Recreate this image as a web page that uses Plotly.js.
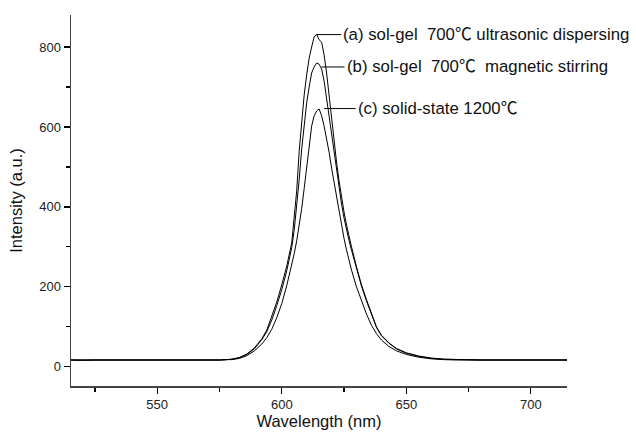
<!DOCTYPE html>
<html>
<head>
<meta charset="utf-8">
<script src="https://cdn.plot.ly/plotly-3.0.1.min.js"></script>
<style>html,body{margin:0;padding:0;background:#fff;}#chart{width:636px;height:437px;}</style>
</head>
<body>
<div id="chart"></div>
<script>
const wavelength = [515,520,525,530,535,540,545,550,555,560,565,570,575,578,580,583,586,589,592,594,596,598,600,602,604,605,606,607,608,609,610,611,612,613,614,615,616,617,618,619,620,621,622,623,624,625,626,627,628,630,632,634,636,638,640,643,646,650,655,660,665,670,680,690,700,710,715];

const seriesA = [17,17,17,16,17,17,17,16,17,17,17,17,17,18,19,23,32,47,70,92,125,162,205,252,310,370,440,540,620,680,730,772,800,825,832,818,812,780,735,680,610,560,512,465,422,387,355,326,300,250,205,168,134,100,79,60,46,35,27,22,19,18,17,17,17,17,17];

const seriesB = [17,17,16,17,17,17,16,17,17,17,17,17,17,18,19,23,31,45,68,88,117,153,193,240,298,342,398,468,545,610,660,700,735,750,760,757,745,715,670,622,575,530,487,446,407,372,342,316,292,245,202,165,131,99,78,59,45,34,26,21,19,18,17,17,17,17,17];

const seriesC = [17,16,17,17,17,16,17,17,17,16,17,17,17,18,18,21,28,40,57,73,94,123,158,203,253,283,315,352,396,446,500,560,602,628,640,645,628,602,572,537,497,460,422,386,352,321,292,266,242,200,164,132,104,83,67,51,40,31,24,20,18,17,17,17,17,17,17];

const labels = ["(a) sol-gel  700\u2103 ultrasonic dispersing", "(b) sol-gel  700\u2103  magnetic stirring", "(c) solid-state 1200\u2103"];
const labelLevels = [831, 750, 646];
const lineStarts = [614, 616, 617];
const lineEnds = [623.8, 625.2, 629.6];

const lineStyle = {color:'#000', width:1};
const traces = [seriesA, seriesB, seriesC].map(s => ({
  x: wavelength, y: s, type:'scatter', mode:'lines', line: lineStyle, hoverinfo:'skip'
}));

const fam = 'Liberation Sans, Arial, "Noto Sans CJK SC", sans-serif';
const shapes = labels.map((t,i) => ({
  type:'line', xref:'x', yref:'y', x0: lineStarts[i], x1: lineEnds[i], y0: labelLevels[i], y1: labelLevels[i],
  line:{color:'#000', width:1}
}));
const annotations = labels.map((t,i) => ({
  text: t, xref:'x', yref:'y', x: lineEnds[i], y: labelLevels[i], xanchor:'left', yanchor:'middle',
  showarrow:false, font:{family: fam, color:'#111', size:16.8}, xshift:0
}));

const axisCommon = {
  showline:true, linecolor:'#444', linewidth:1.5, showgrid:false, zeroline:false,
  ticks:'outside', ticklen:6, tickwidth:1.2, tickcolor:'#000',
  tickfont:{family: fam, color:'#222', size:13}, mirror:false
};

const layout = {
  width:636, height:437,
  margin:{l:71, r:69, t:15, b:51},
  paper_bgcolor:'#fff', plot_bgcolor:'#fff',
  showlegend:false,
  xaxis: Object.assign({}, axisCommon, {
    range:[515.4, 714.5], tickvals:[550,600,650,700],
    minor:{tickvals:[525,575,625,675], ticks:'outside', ticklen:4, tickwidth:1.2, tickcolor:'#000'},
    title:{text:'Wavelength (nm)', font:{family: fam, color:'#111', size:16.5}, standoff:2}
  }),
  yaxis: Object.assign({}, axisCommon, {
    range:[-48, 880], tickvals:[0,200,400,600,800],
    minor:{tickvals:[100,300,500,700], ticks:'outside', ticklen:4, tickwidth:1.2, tickcolor:'#000'},
    title:{text:'Intensity (a.u.)', font:{family: fam, color:'#111', size:16.5}, standoff:12}
  }),
  shapes: shapes,
  annotations: annotations
};

Plotly.newPlot('chart', traces, layout, {staticPlot:true});
</script>
</body>
</html>
